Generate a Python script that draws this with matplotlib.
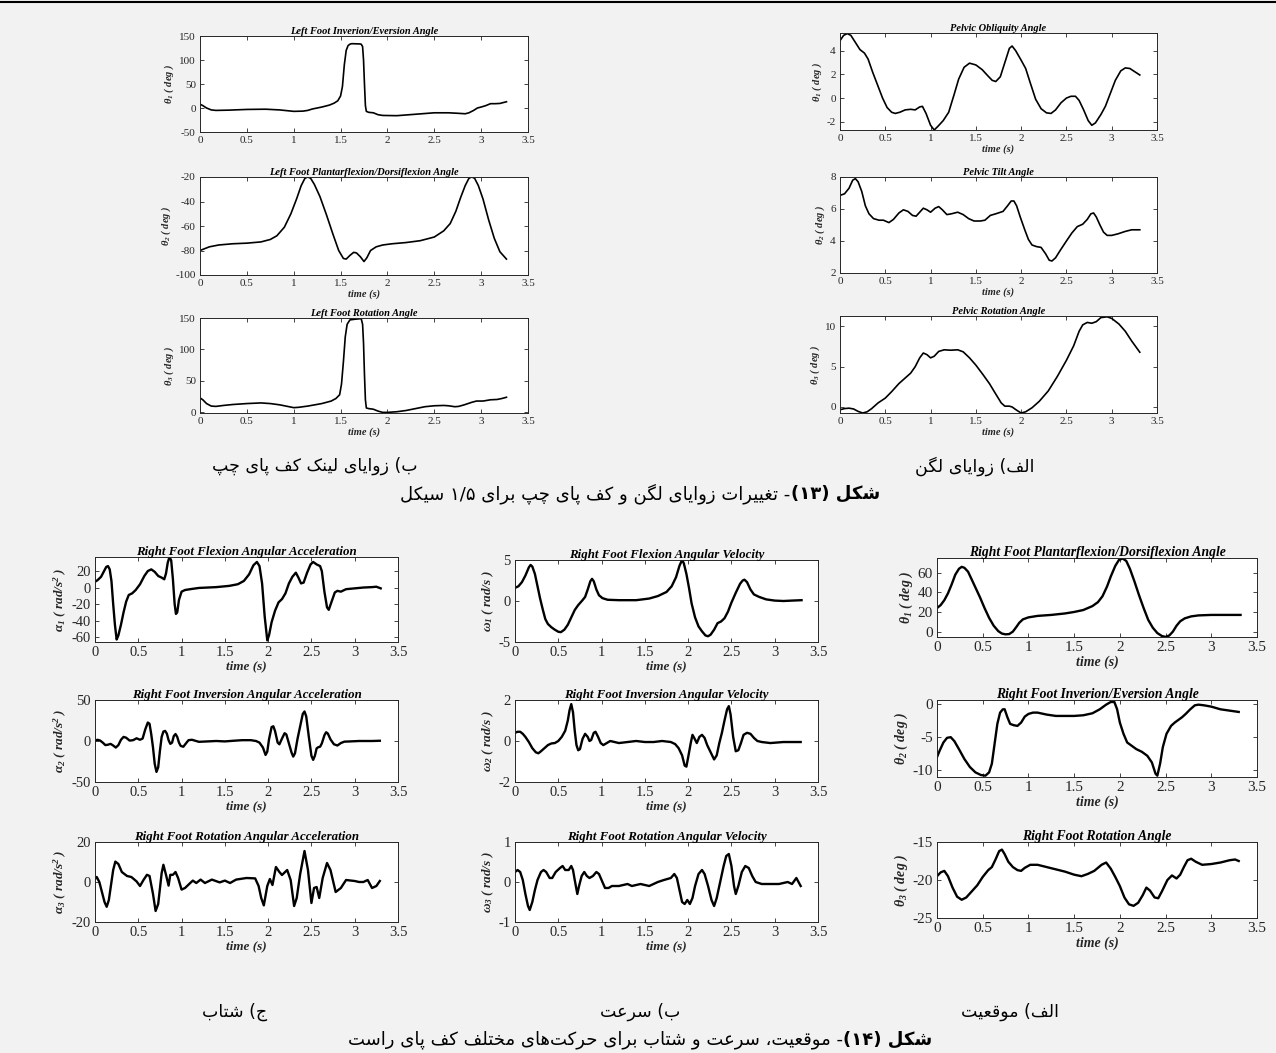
import re
import matplotlib
matplotlib.use('Agg')
import matplotlib.pyplot as plt

plt.rcParams['font.family'] = ['Liberation Serif', 'DejaVu Sans']
plt.rcParams['mathtext.fontset'] = 'custom'
plt.rcParams['mathtext.rm'] = 'Liberation Serif:bold:italic'
plt.rcParams['mathtext.it'] = 'Liberation Serif:bold:italic'
plt.rcParams['mathtext.bf'] = 'Liberation Serif:bold:italic'

# ---------------- data ----------------
t_lf_inv = [0, 0.03, 0.07, 0.12, 0.17, 0.3, 0.5, 0.7, 0.85, 1.0, 1.1, 1.15, 1.2, 1.3, 1.38, 1.43, 1.47, 1.5,
            1.52, 1.54, 1.56, 1.58, 1.6, 1.62, 1.7, 1.72, 1.735, 1.745, 1.755, 1.765, 1.775, 1.8, 1.85, 1.9,
            1.95, 2.1, 2.3, 2.5, 2.65, 2.75, 2.83, 2.87, 2.92, 2.96, 3.0, 3.05, 3.1, 3.15, 3.2, 3.27]
y_lf_inv = [8, 5, 0, -4, -5, -4.5, -3, -2.5, -4, -7, -6.5, -5, -2, 2, 6, 10, 15, 25,
            45, 90, 120, 130, 133, 134, 133.5, 133, 128, 100, 50, 5, -7, -9, -10, -14,
            -15.5, -16, -13, -10, -10, -11, -12, -10, -5, 0, 2, 5, 9, 9, 9.5, 13]

t_lf_pf = [0, 0.05, 0.1, 0.2, 0.35, 0.5, 0.65, 0.75, 0.82, 0.9, 0.97, 1.03, 1.08, 1.12, 1.15, 1.18, 1.22,
           1.28, 1.35, 1.42, 1.48, 1.53, 1.56, 1.6, 1.64, 1.67, 1.71, 1.75, 1.78, 1.82, 1.88, 1.95, 2.05,
           2.2, 2.35, 2.5, 2.6, 2.67, 2.73, 2.78, 2.83, 2.87, 2.9, 2.93, 2.97, 3.02, 3.08, 3.14, 3.2, 3.27]
y_lf_pf = [-80, -78.5, -77, -75.5, -74.5, -74, -73, -71, -68, -61, -50, -38, -27, -21, -20, -21, -26,
           -36, -51, -67, -80, -86.5, -87, -84, -81.5, -82, -85, -89, -86, -80, -77, -75.5, -74.5,
           -73.5, -72, -69, -64, -58, -48, -37, -27, -21, -20, -21, -27, -38, -55, -70, -81, -87]

t_lf_rot = [0, 0.03, 0.07, 0.12, 0.17, 0.25, 0.35, 0.5, 0.65, 0.75, 0.85, 0.95, 1.0, 1.05, 1.15, 1.3, 1.4,
            1.45, 1.49, 1.51, 1.53, 1.55, 1.57, 1.6, 1.65, 1.72, 1.735, 1.745, 1.755, 1.765, 1.775, 1.8,
            1.85, 1.9, 1.95, 2.0, 2.1, 2.2, 2.3, 2.4, 2.5, 2.6, 2.65, 2.72, 2.76, 2.82, 2.9, 2.95, 3.02,
            3.1, 3.17, 3.22, 3.27]
y_lf_rot = [23, 20, 14, 10, 9.5, 11, 12.5, 14, 15, 14, 12, 9, 7.5, 8, 10, 14, 18,
            22, 28, 45, 80, 120, 140, 147, 148, 149, 140, 110, 60, 20, 7, 6,
            5, 2, 0, 0, 1, 3, 6, 9, 10.5, 11, 10.5, 9, 9.5, 12, 16, 18, 18,
            20, 20.5, 22, 24]

t_pel_obl = [0, 0.04, 0.08, 0.12, 0.17, 0.22, 0.27, 0.31, 0.36, 0.42, 0.47, 0.52, 0.57, 0.61, 0.66, 0.72,
             0.78, 0.83, 0.88, 0.91, 0.95, 1.0, 1.04, 1.08, 1.14, 1.2, 1.26, 1.31, 1.37, 1.43, 1.5, 1.57,
             1.63, 1.68, 1.72, 1.77, 1.82, 1.87, 1.9, 1.94, 2.0, 2.05, 2.1, 2.16, 2.22, 2.28, 2.33, 2.38,
             2.44, 2.5, 2.55, 2.6, 2.64, 2.69, 2.74, 2.78, 2.82, 2.88, 2.93, 2.98, 3.04, 3.1, 3.15, 3.2,
             3.26, 3.31]
y_pel_obl = [4.85, 5.3, 5.45, 5.3, 4.7, 4.1, 3.8, 3.3, 2.2, 1.0, 0.0, -0.8, -1.2, -1.3, -1.2, -1.0,
             -0.95, -1.0, -0.75, -0.7, -1.3, -2.3, -2.7, -2.4, -1.9, -1.2, 0.3, 1.6, 2.6, 2.95, 2.8, 2.4,
             1.9, 1.5, 1.4, 1.8, 3.0, 4.2, 4.4, 4.0, 3.2, 2.5, 1.3, -0.1, -0.9, -1.25, -1.3, -1.0,
             -0.4, 0.0, 0.15, 0.15, -0.2, -1.0, -1.9, -2.3, -2.1, -1.4, -0.7, 0.3, 1.5, 2.3, 2.55, 2.5,
             2.2, 1.95]

t_pel_tilt = [0, 0.05, 0.1, 0.14, 0.17, 0.2, 0.24, 0.28, 0.32, 0.37, 0.43, 0.48, 0.54, 0.59, 0.65, 0.7,
              0.75, 0.8, 0.84, 0.88, 0.92, 0.96, 1.0, 1.05, 1.09, 1.13, 1.18, 1.23, 1.3, 1.36, 1.42, 1.48,
              1.55, 1.6, 1.66, 1.72, 1.8, 1.85, 1.89, 1.92, 1.95, 1.99, 2.04, 2.08, 2.12, 2.17, 2.22, 2.27,
              2.31, 2.34, 2.38, 2.43, 2.5, 2.56, 2.62, 2.68, 2.73, 2.77, 2.8, 2.83, 2.87, 2.91, 2.95, 3.0,
              3.07, 3.15, 3.22, 3.31]
y_pel_tilt = [6.85, 6.95, 7.3, 7.8, 7.9, 7.7, 7.1, 6.2, 5.7, 5.4, 5.3, 5.3, 5.15, 5.35, 5.75, 5.95,
              5.85, 5.6, 5.55, 5.8, 6.05, 5.95, 5.8, 6.05, 6.15, 5.95, 5.65, 5.7, 5.8, 5.65, 5.4, 5.25,
              5.25, 5.3, 5.6, 5.7, 5.85, 6.2, 6.5, 6.5, 6.2, 5.5, 4.7, 4.1, 3.75, 3.65, 3.6, 3.2,
              2.8, 2.75, 2.95, 3.4, 4.0, 4.5, 4.9, 5.05, 5.35, 5.7, 5.75, 5.5, 5.0, 4.55, 4.35, 4.35,
              4.45, 4.6, 4.7, 4.7]

t_pel_rot = [0, 0.05, 0.1, 0.15, 0.2, 0.25, 0.3, 0.35, 0.42, 0.5, 0.57, 0.65, 0.72, 0.78, 0.83, 0.88, 0.92,
             0.96, 1.0, 1.04, 1.09, 1.15, 1.22, 1.3, 1.36, 1.43, 1.5, 1.58, 1.65, 1.72, 1.78, 1.82, 1.87,
             1.9, 1.95, 2.0, 2.05, 2.12, 2.2, 2.3, 2.4, 2.5, 2.58, 2.64, 2.68, 2.73, 2.78, 2.83, 2.88, 2.95,
             3.0, 3.08, 3.15, 3.22, 3.31]
y_pel_rot = [-0.35, -0.2, -0.15, -0.25, -0.55, -0.75, -0.6, -0.2, 0.5, 1.1, 1.9, 2.9, 3.6, 4.2, 5.0, 6.1,
             6.7, 6.5, 6.1, 6.3, 6.9, 7.1, 7.05, 7.1, 6.85, 6.1, 5.2, 4.0, 2.9, 1.6, 0.5, 0.1, 0.1,
             0.0, -0.4, -0.75, -0.6, -0.1, 0.7, 2.0, 3.8, 5.8, 7.6, 9.4, 10.2, 10.5, 10.4, 10.6, 11.1, 11.2,
             11.0, 10.3, 9.4, 8.2, 6.8]

t_acc1 = [0, 0.03, 0.07, 0.1, 0.13, 0.15, 0.17, 0.19, 0.21, 0.23, 0.25, 0.27, 0.3, 0.33, 0.36, 0.39, 0.43,
          0.47, 0.52, 0.57, 0.61, 0.65, 0.69, 0.73, 0.77, 0.8, 0.82, 0.84, 0.86, 0.88, 0.9, 0.92, 0.935,
          0.95, 0.97, 1.0, 1.04, 1.1, 1.2, 1.4, 1.55, 1.65, 1.72, 1.78, 1.83, 1.87, 1.9, 1.93, 1.96, 1.99,
          2.01, 2.04, 2.08, 2.12, 2.16, 2.2, 2.24, 2.28, 2.32, 2.35, 2.38, 2.41, 2.45, 2.49, 2.52, 2.56,
          2.6, 2.62, 2.65, 2.68, 2.7, 2.73, 2.77, 2.8, 2.84, 2.9, 3.0, 3.1, 3.2, 3.25, 3.3]
y_acc1 = [7, 9, 13, 19, 25, 26, 22, 8, -20, -45, -63, -58, -45, -30, -17, -9, -7,
          -3, 4, 14, 20, 22, 19, 14, 12, 10, 17, 30, 37, 33, 10, -20, -32,
          -30, -15, -5, -3, -2, -0.5, 0.5, 2, 4, 8, 16, 27, 31, 26, 5, -35, -64,
          -58, -42, -28, -18, -14, -7, 5, 13, 18, 12, 5, 6, 18, 28, 31, 28,
          26, 20, -5, -24, -27, -18, -6, -4, -5, -2, -1, 0, 0.5, 1, -1]

t_vel1 = [0, 0.04, 0.08, 0.12, 0.16, 0.18, 0.2, 0.23, 0.26, 0.29, 0.32, 0.35, 0.38, 0.42, 0.46, 0.5, 0.53,
          0.57, 0.61, 0.65, 0.69, 0.73, 0.78, 0.81, 0.84, 0.87, 0.89, 0.91, 0.94, 0.97, 1.01, 1.07, 1.2, 1.4,
          1.55, 1.65, 1.75, 1.81, 1.86, 1.9, 1.93, 1.95, 1.98, 2.01, 2.04, 2.08, 2.12, 2.16, 2.2, 2.23,
          2.26, 2.3, 2.34, 2.38, 2.42, 2.46, 2.5, 2.55, 2.6, 2.63, 2.65, 2.68, 2.72, 2.76, 2.82, 2.9, 3.0,
          3.1, 3.2, 3.31]
y_vel1 = [1.6, 1.8, 2.3, 3.1, 4.1, 4.4, 4.2, 3.3, 1.8, 0.3, -1.0, -2.2, -2.8, -3.2, -3.5, -3.75, -3.8,
          -3.5, -2.9, -2.0, -1.1, -0.5, 0.1, 0.5, 1.4, 2.4, 2.7, 2.4, 1.4, 0.7, 0.35, 0.15, 0.1, 0.1,
          0.3, 0.6, 1.1, 1.8, 2.9, 4.3, 5.0, 4.6, 3.3, 1.6, -0.3, -2.0, -3.1, -3.7, -4.2, -4.3,
          -4.1, -3.5, -2.7, -2.5, -2.1, -1.3, -0.2, 1.0, 2.1, 2.5, 2.6, 2.3, 1.4, 0.8, 0.5, 0.2, 0.05,
          0.0, 0.05, 0.1]

t_pos1 = [0, 0.04, 0.08, 0.12, 0.16, 0.2, 0.24, 0.27, 0.3, 0.34, 0.38, 0.42, 0.47, 0.52, 0.57, 0.62, 0.67,
          0.71, 0.75, 0.79, 0.83, 0.87, 0.9, 0.94, 1.0, 1.1, 1.25, 1.4, 1.5, 1.6, 1.7, 1.76, 1.81, 1.86, 1.9,
          1.95, 1.99, 2.03, 2.07, 2.11, 2.16, 2.21, 2.26, 2.31, 2.36, 2.41, 2.46, 2.5, 2.54, 2.58, 2.62,
          2.66, 2.71, 2.78, 2.86, 3.0, 3.32]
y_pos1 = [24, 27, 32, 39, 48, 58, 64, 66, 65, 61, 53, 45, 35, 24, 14, 6, 0.5,
          -2, -2.8, -2.5, 0, 5, 9, 12.5, 14.5, 16, 17, 18.5, 20, 22, 26, 30, 36, 46, 56,
          67, 73, 74.5, 72, 64, 51, 37, 24, 12, 4, -1.5, -4.5, -5.4, -4, 0, 6,
          10.5, 13.5, 15.5, 16.5, 17, 17]

t_acc2 = [0, 0.03, 0.06, 0.09, 0.12, 0.15, 0.18, 0.21, 0.24, 0.27, 0.3, 0.33, 0.36, 0.4, 0.44, 0.48, 0.52,
          0.55, 0.58, 0.61, 0.63, 0.65, 0.67, 0.69, 0.71, 0.73, 0.75, 0.77, 0.79, 0.81, 0.83, 0.85, 0.87,
          0.89, 0.91, 0.93, 0.95, 0.97, 0.99, 1.02, 1.05, 1.08, 1.12, 1.2, 1.3, 1.4, 1.5, 1.6, 1.7, 1.8,
          1.86, 1.9, 1.94, 1.97, 1.99, 2.01, 2.04, 2.06, 2.08, 2.11, 2.13, 2.16, 2.19, 2.21, 2.24, 2.27,
          2.29, 2.31, 2.34, 2.37, 2.4, 2.42, 2.44, 2.47, 2.5, 2.52, 2.54, 2.56, 2.58, 2.6, 2.62, 2.65,
          2.67, 2.69, 2.72, 2.76, 2.8, 2.84, 2.88, 2.95, 3.05, 3.2, 3.29]
y_acc2 = [0.5, 1.5, 0.5, -2, -5, -4.5, -3.5, -5.5, -8, -5, 1.5, 5, 4, 0.5, 1, 3.3, 1.5,
          3, 14, 22.5, 21, 8, -8, -28, -37.7, -32, -12, 5, 11.5, 12.3, 9, 1, -3.5,
          -2, 6, 8.5, 5, -2, -6, -7, -3, 1, 1.5, -1, -0.5, 0, -0.5, 0.3, 1, 1,
          0, -2, -8, -17, -13, 2, 17, 18, 12, -2, -4, 3, 9.5, 8, -3, -14,
          -19, -15, 3, 18, 33, 36, 30, 5, -18, -23, -18, -9, -7.5, -7, -3, 7,
          10.7, 9, 2, -4, -5.5, -2.5, -0.8, -0.5, 0, 0, 0.3]

t_acc3 = [0, 0.02, 0.05, 0.08, 0.11, 0.135, 0.16, 0.19, 0.21, 0.235, 0.27, 0.31, 0.37, 0.42, 0.48, 0.52,
          0.56, 0.6, 0.63, 0.67, 0.7, 0.73, 0.77, 0.79, 0.82, 0.85, 0.87, 0.9, 0.93, 0.96, 1.0, 1.04, 1.1,
          1.13, 1.17, 1.22, 1.27, 1.35, 1.44, 1.5, 1.56, 1.63, 1.75, 1.85, 1.89, 1.92, 1.95, 1.99, 2.02,
          2.05, 2.09, 2.13, 2.16, 2.22, 2.26, 2.3, 2.33, 2.37, 2.42, 2.46, 2.5, 2.53, 2.56, 2.59, 2.63,
          2.68, 2.72, 2.78, 2.84, 2.9, 3.0, 3.05, 3.1, 3.15, 3.2, 3.25, 3.29]
y_acc3 = [1.5, 2.5, 0, -5, -10, -12.4, -9, 0, 6, 10.2, 9, 5, 3, 2.5, 0.3, -2,
          1, 3.6, 3, -6, -14.5, -11, 4.5, 8.6, 3.6, -1.8, 3.6, 3.6, 5, 2, -3.8, -3, -0.5,
          0.7, -0.5, 1.2, -0.5, 1.2, -0.2, 0.7, -0.5, 1.2, 2, 1.8, -2, -8, -11.7, -2, 1.5,
          -1.5, 7.5, 5, 3.5, 6, 1, -12, -8, 4, 15.5, 6, -10.5, -3, -2.5, -8, 2,
          9.5, 6, -5, -3, 1, 0.5, 0, 0, 1, -3, -2, 0.5]

t_vel2 = [0, 0.03, 0.06, 0.09, 0.12, 0.16, 0.2, 0.24, 0.27, 0.3, 0.34, 0.38, 0.42, 0.46, 0.5, 0.54, 0.58,
          0.61, 0.63, 0.65, 0.67, 0.69, 0.71, 0.73, 0.75, 0.78, 0.81, 0.84, 0.86, 0.88, 0.91, 0.93, 0.96,
          0.99, 1.02, 1.06, 1.1, 1.15, 1.2, 1.3, 1.4, 1.5, 1.6, 1.7, 1.8, 1.85, 1.89, 1.93, 1.96, 1.98,
          2.0, 2.03, 2.05, 2.07, 2.1, 2.13, 2.16, 2.19, 2.22, 2.26, 2.3, 2.33, 2.36, 2.39, 2.42, 2.45,
          2.47, 2.49, 2.52, 2.55, 2.58, 2.61, 2.64, 2.68, 2.72, 2.76, 2.8, 2.85, 2.95, 3.1, 3.2, 3.3]
y_vel2 = [0.4, 0.45, 0.45, 0.35, 0.2, -0.05, -0.35, -0.55, -0.6, -0.5, -0.35, -0.2, -0.12, -0.1, 0.0, 0.2,
          0.5, 1.0, 1.5, 1.8, 1.4, 0.5, -0.2, -0.45, -0.4, 0.1, 0.35, 0.2, 0.0, 0.05, 0.4, 0.45, 0.2,
          -0.1, -0.2, -0.1, 0.0, -0.05, -0.1, -0.05, 0.0, -0.05, -0.05, 0.0, -0.05, -0.15, -0.35, -0.7,
          -1.2, -1.25, -0.8, -0.1, 0.3, 0.15, -0.1, 0.2, 0.3, 0.15, -0.2, -0.55, -0.9, -0.7, -0.1, 0.4,
          1.0, 1.55, 1.7, 1.3, 0.2, -0.5, -0.45, -0.1, 0.3, 0.4, 0.35, 0.15, 0.0, -0.05, -0.1, -0.05,
          -0.05, -0.05]

t_pos2 = [0, 0.03, 0.07, 0.11, 0.15, 0.19, 0.24, 0.3, 0.36, 0.42, 0.48, 0.53, 0.57, 0.6, 0.63, 0.66, 0.69,
          0.72, 0.74, 0.77, 0.8, 0.84, 0.88, 0.92, 0.96, 1.0, 1.05, 1.1, 1.2, 1.3, 1.4, 1.5, 1.6, 1.7,
          1.78, 1.85, 1.9, 1.94, 1.97, 2.0, 2.04, 2.08, 2.13, 2.18, 2.24, 2.3, 2.35, 2.39, 2.41, 2.44,
          2.47, 2.51, 2.56, 2.6, 2.64, 2.68, 2.72, 2.77, 2.82, 2.86, 2.92, 3.0, 3.1, 3.2, 3.3]
y_pos2 = [-8, -7, -5.8, -5.1, -5.0, -5.6, -6.8, -8.3, -9.5, -10.3, -10.7, -10.8, -10.3, -9, -6, -3, -1.3,
          -0.8, -0.8, -2, -3, -3.2, -3.3, -2.8, -1.9, -1.5, -1.3, -1.3, -1.6, -1.8, -1.8, -1.8, -1.7, -1.4,
          -0.8, -0.1, 0.3, 0.3, -0.8, -2.8, -4.5, -5.8, -6.3, -6.8, -7.2, -7.8, -8.8, -10.5, -10.8, -9,
          -6.5, -4.5, -3.3, -2.8, -2.4, -2.0, -1.5, -0.8, -0.2, -0.1, -0.2, -0.4, -0.8, -1.0, -1.2]

t_vel3 = [0, 0.03, 0.06, 0.09, 0.12, 0.15, 0.17, 0.2, 0.23, 0.26, 0.3, 0.33, 0.36, 0.4, 0.43, 0.47, 0.52,
          0.55, 0.58, 0.62, 0.65, 0.67, 0.69, 0.72, 0.74, 0.77, 0.8, 0.83, 0.86, 0.9, 0.94, 0.97, 1.0, 1.04,
          1.08, 1.12, 1.2, 1.3, 1.35, 1.45, 1.55, 1.65, 1.72, 1.8, 1.84, 1.87, 1.9, 1.93, 1.96, 1.99, 2.02,
          2.05, 2.08, 2.12, 2.16, 2.19, 2.23, 2.27, 2.3, 2.33, 2.37, 2.41, 2.44, 2.47, 2.5, 2.53, 2.55,
          2.58, 2.62, 2.66, 2.7, 2.74, 2.78, 2.85, 2.95, 3.05, 3.15, 3.2, 3.25, 3.3]
y_vel3 = [0.25, 0.3, 0.25, 0.05, -0.3, -0.6, -0.7, -0.5, -0.2, 0.05, 0.25, 0.3, 0.25, 0.1, 0.1, 0.25, 0.35,
          0.4, 0.3, 0.3, 0.4, 0.3, 0.05, -0.3, -0.1, 0.15, 0.25, 0.15, 0.1, 0.15, 0.25, 0.2, 0.05, -0.15,
          -0.15, -0.1, -0.1, -0.05, -0.1, -0.05, -0.1, 0.0, 0.05, 0.1, 0.2, 0.1, -0.2, -0.5, -0.55, -0.45,
          -0.55, -0.4, -0.1, 0.2, 0.3, 0.2, -0.1, -0.45, -0.6, -0.4, 0.0, 0.4, 0.65, 0.7, 0.4, -0.1, -0.3,
          -0.1, 0.25, 0.4, 0.35, 0.15, 0.0, -0.05, -0.05, -0.05, 0.0, -0.05, 0.1, -0.1]

t_pos3 = [0, 0.04, 0.08, 0.12, 0.17, 0.22, 0.27, 0.32, 0.38, 0.44, 0.5, 0.56, 0.6, 0.64, 0.68, 0.71, 0.74,
          0.78, 0.83, 0.88, 0.92, 0.96, 1.02, 1.1, 1.2, 1.3, 1.4, 1.5, 1.58, 1.65, 1.72, 1.8, 1.85, 1.9,
          1.95, 2.0, 2.05, 2.1, 2.15, 2.2, 2.25, 2.29, 2.33, 2.38, 2.42, 2.46, 2.52, 2.57, 2.62, 2.66,
          2.7, 2.74, 2.78, 2.83, 2.9, 3.0, 3.1, 3.2, 3.26, 3.3]
y_pos3 = [-19.5, -19.0, -18.8, -19.5, -21, -22.2, -22.6, -22.3, -21.5, -20.7, -19.6, -18.7, -18.3, -17.3,
          -16.2, -16.0, -16.6, -17.6, -18.3, -18.7, -18.8, -18.4, -18.0, -18.0, -18.3, -18.6, -18.9, -19.3,
          -19.5, -19.2, -18.8, -18.0, -17.7, -18.5, -19.6, -20.8, -22.3, -23.2, -23.4, -23.0, -22.0, -21.0,
          -21.4, -22.3, -22.4, -21.5, -20.0, -19.4, -19.8, -19.3, -18.3, -17.4, -17.2, -17.6, -18.0, -17.9,
          -17.7, -17.4, -17.3, -17.5]

x_ticks = [0, 0.5, 1, 1.5, 2, 2.5, 3, 3.5]
x_tick_labels = ['0', '0.5', '1', '1.5', '2', '2.5', '3', '3.5']

# ---------------- Persian text helpers ----------------
DUAL = {
    '\u0628': 0xFE8F, '\u062A': 0xFE95, '\u062B': 0xFE99, '\u062C': 0xFE9D, '\u062D': 0xFEA1,
    '\u062E': 0xFEA5, '\u0633': 0xFEB1, '\u0634': 0xFEB5, '\u0635': 0xFEB9, '\u0636': 0xFEBD,
    '\u0637': 0xFEC1, '\u0638': 0xFEC5, '\u0639': 0xFEC9, '\u063A': 0xFECD, '\u0641': 0xFED1,
    '\u0642': 0xFED5, '\u0644': 0xFEDD, '\u0645': 0xFEE1, '\u0646': 0xFEE5, '\u0647': 0xFEE9,
    '\u064A': 0xFEF1, '\u06CC': 0xFBFC, '\u06A9': 0xFB8E, '\u06AF': 0xFB92, '\u067E': 0xFB56,
    '\u0686': 0xFB7A,
}
RIGHT = {
    '\u0627': 0xFE8D, '\u0622': 0xFE81, '\u062F': 0xFEA9, '\u0630': 0xFEAB, '\u0631': 0xFEAD,
    '\u0632': 0xFEAF, '\u0698': 0xFB8A, '\u0648': 0xFEED,
}


def shape(s):
    out = []
    n = len(s)
    for i, c in enumerate(s):
        if c in DUAL or c in RIGHT:
            prev = s[i - 1] if i > 0 else ''
            nxt = s[i + 1] if i + 1 < n else ''
            jp = prev in DUAL
            jn = (c in DUAL) and (nxt in DUAL or nxt in RIGHT)
            base = DUAL.get(c, RIGHT.get(c))
            if jp and jn:
                off = 3
            elif jp:
                off = 1
            elif jn:
                off = 2
            else:
                off = 0
            out.append(chr(base + off))
        elif c == '\u200c':
            continue
        else:
            out.append(c)
    return ''.join(out)


MIRROR = {'(': ')', ')': '('}


def rtl(s):
    sh = shape(s)
    toks = re.findall(r'[0-9\u06F0-\u06F9]+(?:/[0-9\u06F0-\u06F9]+)*|.', sh, re.S)
    return ''.join(MIRROR.get(t, t) for t in reversed(toks))


# ---------------- figure ----------------
W, H = 1276, 1053
fig = plt.figure(figsize=(W / 100, H / 100), dpi=100)
fig.patch.set_facecolor('#f2f2f2')

DARK = '#262626'


def make_ax(rect, t, y, title, ylabel, ylim, yticks, xlabel, size):
    l, tp, r, b = rect
    ax = fig.add_axes([l / W, 1 - b / H, (r - l) / W, (b - tp) / H])
    ax.set_facecolor('white')
    fs_tick, fs_title, fs_lab, lw = size
    ax.plot(t, y, color='black', lw=lw, solid_joinstyle='round')
    ax.set_xlim(0, 3.5)
    ax.set_ylim(*ylim)
    ax.set_xticks(x_ticks)
    ax.set_xticklabels(x_tick_labels)
    ax.set_yticks(yticks)
    ax.set_yticklabels([str(v) for v in yticks])
    ax.tick_params(direction='in', top=True, right=True, length=3, width=0.6,
                   labelsize=fs_tick, colors=DARK, pad=3)
    for sp in ax.spines.values():
        sp.set_linewidth(0.7)
        sp.set_color(DARK)
    ax.set_title(title, fontsize=fs_title, fontweight='bold', fontstyle='italic', pad=1.5, color='black')
    ax.set_ylabel(ylabel, fontsize=fs_lab, fontweight='bold', fontstyle='italic', color=DARK, labelpad=2)
    if xlabel:
        ax.set_xlabel('time (s)', fontsize=fs_lab, fontweight='bold', fontstyle='italic', color=DARK, labelpad=1)
    return ax


SMALL = (8, 7.5, 7.5, 1.2)
MID = (10.5, 9.3, 9.5, 1.7)
BIG = (11, 9.8, 10, 1.7)

# top section: left foot (left column) and pelvis (right column)
make_ax((200, 36, 528, 132), t_lf_inv, y_lf_inv, 'Left Foot Inverion/Eversion Angle',
        r'$\theta_1$ ( deg )', (-50, 150), [-50, 0, 50, 100, 150], False, SMALL)
make_ax((200, 177, 528, 275), t_lf_pf, y_lf_pf, 'Left Foot Plantarflexion/Dorsiflexion Angle',
        r'$\theta_2$ ( deg )', (-100, -20), [-100, -80, -60, -40, -20], True, SMALL)
make_ax((200, 318, 528, 413), t_lf_rot, y_lf_rot, 'Left Foot Rotation Angle',
        r'$\theta_3$ ( deg )', (-1, 150), [0, 50, 100, 150], True, SMALL)
make_ax((840, 33, 1157, 130), t_pel_obl, y_pel_obl, 'Pelvic Obliquity Angle',
        r'$\theta_1$ ( deg )', (-2.7, 5.5), [-2, 0, 2, 4], True, SMALL)
make_ax((840, 177, 1157, 273), t_pel_tilt, y_pel_tilt, 'Pelvic Tilt Angle',
        r'$\theta_2$ ( deg )', (2, 8), [2, 4, 6, 8], True, SMALL)
make_ax((840, 316, 1157, 413), t_pel_rot, y_pel_rot, 'Pelvic Rotation Angle',
        r'$\theta_3$ ( deg )', (-0.75, 11.3), [0, 5, 10], True, SMALL)

# bottom section
make_ax((95, 557, 398, 642), t_acc1, y_acc1, 'Right Foot Flexion Angular Acceleration',
        r'$\alpha_1$ ( rad/s$^2$ )', (-66, 37), [-60, -40, -20, 0, 20], True, MID)
make_ax((95, 700, 398, 782), t_acc2, y_acc2, 'Right Foot Inversion Angular Acceleration',
        r'$\alpha_2$ ( rad/s$^2$ )', (-50, 50), [-50, 0, 50], True, MID)
make_ax((95, 842, 398, 922), t_acc3, y_acc3, 'Right Foot Rotation Angular Acceleration',
        r'$\alpha_3$ ( rad/s$^2$ )', (-20, 20), [-20, 0, 20], True, MID)
make_ax((515, 560, 818, 642), t_vel1, y_vel1, 'Right Foot Flexion Angular Velocity',
        r'$\omega_1$ ( rad/s )', (-5, 5), [-5, 0, 5], True, MID)
make_ax((515, 700, 818, 782), t_vel2, y_vel2, 'Right Foot Inversion Angular Velocity',
        r'$\omega_2$ ( rad/s )', (-2, 2), [-2, 0, 2], True, MID)
make_ax((515, 842, 818, 922), t_vel3, y_vel3, 'Right Foot Rotation Angular Velocity',
        r'$\omega_3$ ( rad/s )', (-1, 1), [-1, 0, 1], True, MID)
make_ax((937, 558, 1257, 637), t_pos1, y_pos1, 'Right Foot Plantarflexion/Dorsiflexion Angle',
        r'$\theta_1$ ( deg )', (-5.5, 75), [0, 20, 40, 60], True, BIG)
make_ax((937, 700, 1257, 777), t_pos2, y_pos2, 'Right Foot Inverion/Eversion Angle',
        r'$\theta_2$ ( deg )', (-11, 0.6), [-10, -5, 0], True, BIG)
make_ax((937, 842, 1257, 918), t_pos3, y_pos3, 'Right Foot Rotation Angle',
        r'$\theta_3$ ( deg )', (-25, -15.3), [-25, -20, -15], True, BIG)

# ---------------- Persian labels ----------------
PFONT = ['DejaVu Sans']


def ptext(x, y, s, size=13, weight='normal'):
    fig.text(x / W, 1 - y / H, rtl(s), ha='center', va='center', fontsize=size,
             family=PFONT, fontweight=weight, color='black')


ptext(315, 466, 'ب) زوایای لینک کف پای چپ', 12.5)
ptext(975, 466, 'الف) زوایای لگن', 12.5)
ptext(235, 1012, 'ج) شتاب', 12.5)
ptext(640, 1012, 'ب) سرعت', 12.5)
ptext(1010, 1012, 'الف) موقعیت', 12.5)

renderer = fig.canvas.get_renderer()


def caption(cx, y, bold_part, rest, size=13):
    t_rest = fig.text(0, 1 - y / H, rtl(rest), ha='left', va='center', fontsize=size,
                      family=PFONT, color='black')
    t_bold = fig.text(0, 1 - y / H, rtl(bold_part), ha='left', va='center', fontsize=size,
                      family=PFONT, fontweight='bold', color='black')
    w1 = t_rest.get_window_extent(renderer).width
    w2 = t_bold.get_window_extent(renderer).width
    total = w1 + w2
    x0 = cx - total / 2
    t_rest.set_x(x0 / W)
    t_bold.set_x((x0 + w1) / W)


caption(640, 494, 'شکل (۱۳)', '- تغییرات زوایای لگن و کف پای چپ برای ۱/۵ سیکل')
caption(640, 1040, 'شکل (۱۴)', '- موقعیت، سرعت و شتاب برای حرکت\u200cهای مختلف کف پای راست')

# top border line
fig.add_artist(plt.Line2D([0, 1], [1 - 2 / H, 1 - 2 / H], color='black', lw=1.5, transform=fig.transFigure))

fig.savefig('out.png', dpi=100, facecolor=fig.get_facecolor())
